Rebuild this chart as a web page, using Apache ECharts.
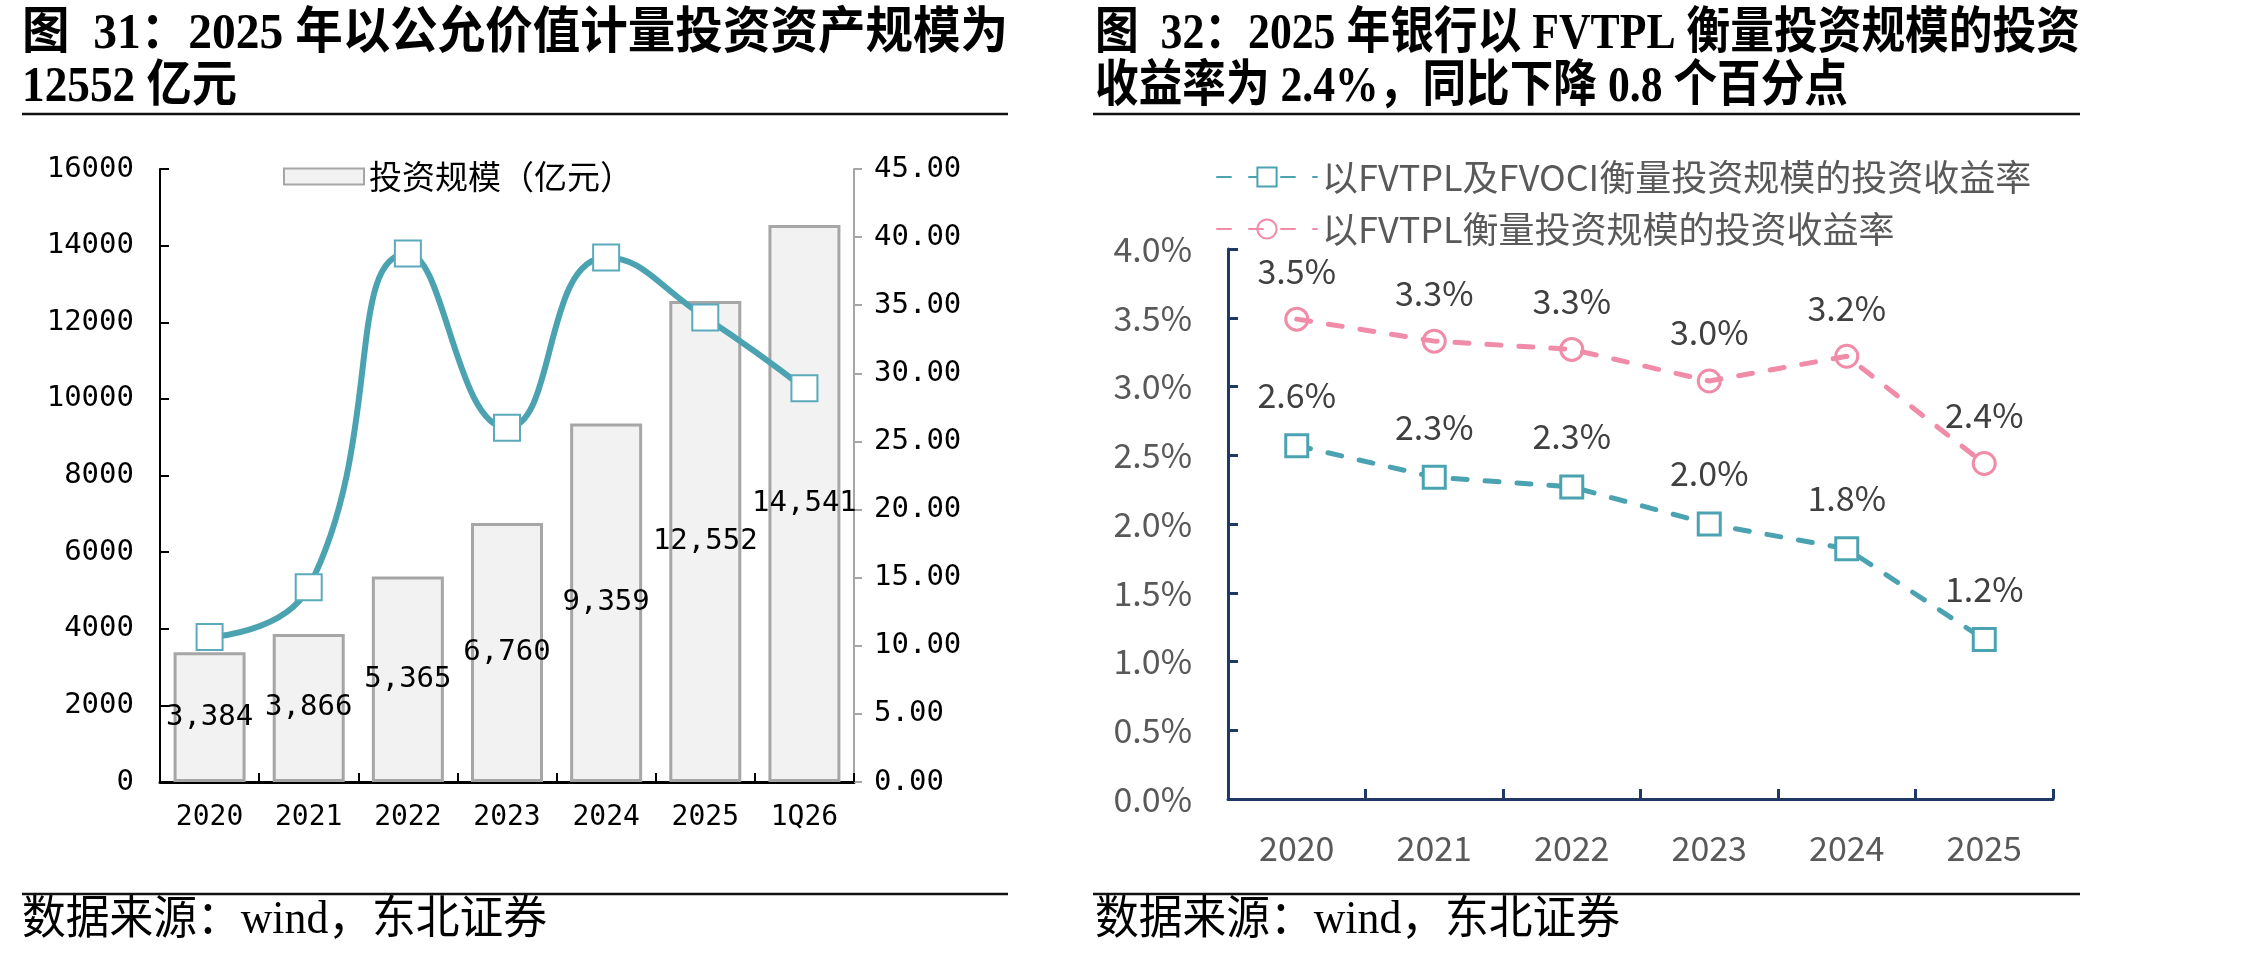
<!DOCTYPE html>
<html>
<head>
<meta charset="utf-8">
<script src="https://cdn.jsdelivr.net/npm/echarts@6/dist/echarts.min.js"></script>
<style>
  html, body { margin: 0; padding: 0; background: #fff; }
  #chart { width: 2268px; height: 960px; }
</style>
</head>
<body>
<div id="chart"></div>
<script>
// 图31：投资规模（亿元）与右轴比例
const periodsLeft = ['2020', '2021', '2022', '2023', '2024', '2025', '1Q26'];
const scaleValues = [3384, 3866, 5365, 6760, 9359, 12552, 14541];
const ratioValues = [10.65, 14.3, 38.8, 26.0, 38.5, 34.1, 28.9];

// 图32：投资收益率（%）
const yearsRight = ['2020', '2021', '2022', '2023', '2024', '2025'];
const yieldAll = [2.57, 2.34, 2.27, 2.00, 1.82, 1.16];
const yieldFvtpl = [3.49, 3.33, 3.27, 3.04, 3.22, 2.44];

const nameBar = '投资规模（亿元）';
const nameAll = '以FVTPL及FVOCI衡量投资规模的投资收益率';
const nameFvtpl = '以FVTPL衡量投资规模的投资收益率';

const serifCjk = '"Liberation Serif", "Noto Sans CJK SC"';
const monoFont = "'DejaVu Sans Mono', monospace";
const cjkFont = "'Noto Sans CJK SC', sans-serif";
const teal = '#4ba3b2';
const pink = '#f08ca8';
const navy = '#1f3864';

const chart = echarts.init(document.getElementById('chart'), null, { renderer: 'canvas' });

const measureCtx = document.createElement('canvas').getContext('2d');

// 标题文字：按参考图的宽度横向压缩
function fitText(text, x, y, width, font) {
  measureCtx.font = font;
  const w = measureCtx.measureText(text).width;
  return {
    type: 'text',
    x, y,
    scaleX: width / w,
    style: { text, font, fill: '#000', textAlign: 'left', textVerticalAlign: 'middle' },
  };
}

function rule(x1, x2, y) {
  return {
    type: 'line',
    shape: { x1, y1: y, x2, y2: y },
    style: { stroke: '#111', lineWidth: 2.5 },
  };
}

const titleFont = 'bold 50px ' + serifCjk;
const sourceFont = '46px ' + serifCjk;

chart.setOption({
  backgroundColor: '#fff',
  animation: false,
  graphic: [
    fitText('图  31：2025 年以公允价值计量投资资产规模为', 22, 35, 986, titleFont),
    fitText('12552 亿元', 22, 88, 215, titleFont),
    fitText('图  32：2025 年银行以 FVTPL 衡量投资规模的投资', 1095, 35, 985, titleFont),
    fitText('收益率为 2.4%，同比下降 0.8 个百分点', 1095, 88, 753, titleFont),
    fitText('数据来源：wind，东北证券', 22, 921, 525, sourceFont),
    fitText('数据来源：wind，东北证券', 1095, 921, 525, sourceFont),
    rule(22, 1008, 114),
    rule(1093, 2080, 114),
    rule(22, 1008, 894),
    rule(1093, 2080, 894),
  ],
  legend: [
    {
      data: [nameBar],
      left: 278, top: 155,
      icon: 'rect',
      itemWidth: 80, itemHeight: 16,
      textStyle: { fontFamily: cjkFont, fontSize: 33, color: '#000' },
    },
    {
      data: [nameAll, nameFvtpl],
      orient: 'vertical',
      left: 1211, top: 154,
      itemWidth: 100, itemHeight: 24, itemGap: 16,
      textStyle: { fontFamily: cjkFont, fontSize: 36, color: '#595959' },
    },
  ],
  grid: [
    { left: 160, top: 169, width: 694, height: 613 },
    { left: 1228, top: 249, width: 825, height: 550 },
  ],
  xAxis: [
    {
      type: 'category', gridIndex: 0, data: periodsLeft,
      axisLine: { lineStyle: { color: '#000', width: 3 } },
      axisTick: { show: true, inside: true, length: 9, lineStyle: { color: '#000', width: 2 } },
      axisLabel: { color: '#000', fontFamily: monoFont, fontSize: 28, margin: 22 },
    },
    {
      type: 'category', gridIndex: 1, data: yearsRight,
      axisLine: { lineStyle: { color: navy, width: 3 } },
      axisTick: { show: true, inside: true, length: 10, lineStyle: { color: navy, width: 3 } },
      axisLabel: { color: '#595959', fontFamily: cjkFont, fontSize: 34, margin: 32 },
    },
  ],
  yAxis: [
    {
      type: 'value', gridIndex: 0, position: 'left', min: 0, max: 16000, interval: 2000,
      axisLine: { show: true, lineStyle: { color: '#000', width: 2 } },
      axisTick: { show: true, inside: true, length: 9, lineStyle: { color: '#000', width: 2 } },
      axisLabel: { color: '#000', fontFamily: monoFont, fontSize: 29, margin: 26, formatter: (v) => String(v) },
      splitLine: { show: false },
    },
    {
      type: 'value', gridIndex: 0, position: 'right', min: 0, max: 45, interval: 5,
      axisLine: { show: true, lineStyle: { color: '#a6a6a6', width: 2 } },
      axisTick: { show: true, inside: false, length: 8, lineStyle: { color: '#a6a6a6', width: 2 } },
      axisLabel: { color: '#000', fontFamily: monoFont, fontSize: 29, margin: 20, formatter: (v) => v.toFixed(2) },
      splitLine: { show: false },
    },
    {
      type: 'value', gridIndex: 1, min: 0, max: 4, interval: 0.5,
      axisLine: { show: true, lineStyle: { color: navy, width: 3 } },
      axisTick: { show: true, inside: true, length: 10, lineStyle: { color: navy, width: 3 } },
      axisLabel: { color: '#595959', fontFamily: cjkFont, fontSize: 34, margin: 36, formatter: (v) => v.toFixed(1) + '%' },
      splitLine: { show: false },
    },
  ],
  series: [
    {
      name: nameBar,
      type: 'bar',
      xAxisIndex: 0, yAxisIndex: 0,
      data: scaleValues,
      barWidth: 72,
      itemStyle: { color: '#f2f2f2', borderColor: '#a6a6a6', borderWidth: 3 },
      label: {
        show: true, position: 'inside',
        formatter: (p) => p.value.toLocaleString('en-US'),
        color: '#000', fontFamily: monoFont, fontSize: 29,
      },
      z: 2,
    },
    {
      name: 'ratio',
      type: 'line',
      xAxisIndex: 0, yAxisIndex: 1,
      data: ratioValues,
      smooth: 0.5,
      symbol: 'rect', symbolSize: 26,
      lineStyle: { color: teal, width: 6 },
      itemStyle: { color: '#fff', borderColor: '#5aaabb', borderWidth: 2 },
      z: 3,
    },
    {
      name: nameAll,
      type: 'line',
      xAxisIndex: 1, yAxisIndex: 2,
      data: yieldAll,
      symbol: 'rect', symbolSize: 22,
      lineStyle: { color: teal, width: 5, type: [14, 18], cap: 'round' },
      itemStyle: { color: '#fff', borderColor: teal, borderWidth: 3 },
      label: {
        show: true, position: 'top', distance: 21,
        formatter: (p) => p.value.toFixed(1) + '%',
        color: '#404040', fontFamily: cjkFont, fontSize: 34,
      },
    },
    {
      name: nameFvtpl,
      type: 'line',
      xAxisIndex: 1, yAxisIndex: 2,
      data: yieldFvtpl,
      symbol: 'circle', symbolSize: 22,
      lineStyle: { color: pink, width: 5, type: [14, 18], cap: 'round' },
      itemStyle: { color: 'rgba(255,255,255,0)', borderColor: pink, borderWidth: 3 },
      label: {
        show: true, position: 'top', distance: 19,
        formatter: (p) => p.value.toFixed(1) + '%',
        color: '#404040', fontFamily: cjkFont, fontSize: 34,
      },
    },
  ],
});
</script>
</body>
</html>
